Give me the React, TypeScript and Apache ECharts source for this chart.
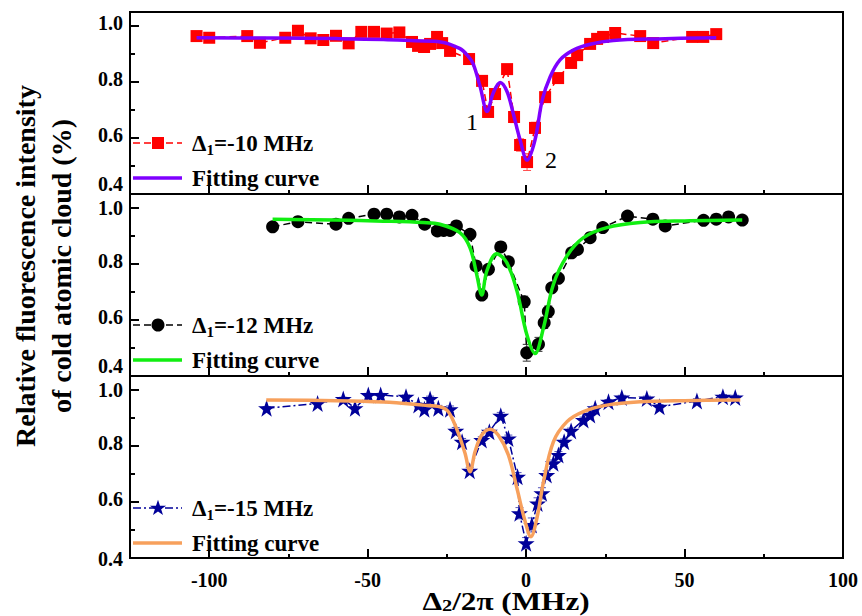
import React, { useEffect, useRef } from "react";
import * as echarts from "echarts";

// ---------- data ----------
// [detuning Δ2/2π (MHz), relative fluorescence, error]
const data10: number[][] = [
  [-104, 0.964, 0.006], [-100, 0.958, 0.006], [-88, 0.964, 0.006], [-84, 0.94, 0.006], [-76, 0.958, 0.006],
  [-72, 0.983, 0.006], [-68, 0.956, 0.006], [-64, 0.95, 0.006], [-60, 0.965, 0.006], [-56, 0.938, 0.006],
  [-52, 0.979, 0.006], [-48, 0.979, 0.006], [-44, 0.973, 0.006], [-40, 0.977, 0.006], [-36, 0.943, 0.008],
  [-34.1, 0.929, 0.008], [-32.2, 0.925, 0.008], [-30.3, 0.936, 0.008], [-28.1, 0.961, 0.008], [-26.5, 0.939, 0.008],
  [-24, 0.911, 0.01], [-18, 0.882, 0.01], [-13.9, 0.804, 0.012], [-12, 0.693, 0.012], [-9.8, 0.757, 0.012],
  [-6, 0.846, 0.012], [-3.8, 0.675, 0.02], [-1.9, 0.575, 0.022], [0.3, 0.514, 0.03], [2.8, 0.636, 0.02],
  [6, 0.746, 0.015], [10.1, 0.814, 0.01], [14.2, 0.868, 0.008], [16.1, 0.896, 0.008], [20.2, 0.936, 0.006],
  [22.4, 0.954, 0.006], [24.3, 0.961, 0.006], [28.1, 0.975, 0.006], [36, 0.964, 0.006], [40.1, 0.939, 0.006],
  [52.4, 0.961, 0.006], [55.9, 0.961, 0.006], [60, 0.971, 0.006],
];
const fit10: number[][] = [
  [-104, 0.958], [-80, 0.957], [-60, 0.955], [-45, 0.952], [-35, 0.947], [-27, 0.943], [-21, 0.92],
  [-18.5, 0.895], [-16.7, 0.865], [-14.5, 0.783], [-12.3, 0.695], [-10.4, 0.76], [-8.2, 0.798], [-6, 0.765],
  [-4.1, 0.689], [-1.9, 0.593], [0.3, 0.521], [2.8, 0.593], [5.1, 0.736], [7.6, 0.819], [10.7, 0.879],
  [14.9, 0.914], [20.2, 0.935], [27.5, 0.948], [41.4, 0.954], [60, 0.958],
];
const data12: number[][] = [
  [-80, 0.933, 0.006], [-72, 0.951, 0.006], [-60, 0.942, 0.006], [-56, 0.963, 0.006], [-48, 0.978, 0.006],
  [-44, 0.978, 0.006], [-40, 0.968, 0.006], [-36, 0.974, 0.006], [-32, 0.942, 0.008], [-28, 0.918, 0.012],
  [-26, 0.92, 0.012], [-24, 0.92, 0.012], [-22, 0.936, 0.012], [-17.7, 0.906, 0.01], [-15.8, 0.793, 0.01],
  [-14, 0.689, 0.01], [-11.9, 0.781, 0.01], [-8, 0.861, 0.01], [-5.6, 0.808, 0.01], [-0.6, 0.665, 0.02],
  [0.2, 0.483, 0.03], [3.9, 0.513, 0.025], [5.7, 0.59, 0.02], [7, 0.63, 0.02], [8.1, 0.715, 0.015],
  [10.2, 0.749, 0.012], [14.4, 0.84, 0.01], [16.2, 0.852, 0.01], [20.2, 0.894, 0.008], [24.2, 0.93, 0.008],
  [32, 0.971, 0.006], [40, 0.96, 0.006], [43.9, 0.936, 0.006], [56, 0.956, 0.006], [60, 0.96, 0.006],
  [63.9, 0.968, 0.006], [68.2, 0.957, 0.006],
];
const fit12: number[][] = [
  [-80, 0.96], [-60, 0.957], [-45, 0.953], [-32.5, 0.948], [-27.2, 0.942], [-20.9, 0.912], [-17.7, 0.858],
  [-15.6, 0.763], [-14, 0.689], [-12.4, 0.775], [-9.3, 0.837], [-6.1, 0.805], [-2.9, 0.704], [0.2, 0.549],
  [2.8, 0.48], [5.5, 0.573], [8.6, 0.727], [12.9, 0.829], [18.1, 0.894], [25.5, 0.93], [36, 0.948],
  [50, 0.954], [68.2, 0.957],
];
const data15: number[][] = [
  [-81.9, 0.935, 0.006], [-65.8, 0.952, 0.006], [-57.7, 0.968, 0.006], [-54, 0.935, 0.006], [-49.8, 0.982, 0.006],
  [-45.9, 0.982, 0.006], [-37.9, 0.976, 0.006], [-34, 0.946, 0.008], [-32.1, 0.931, 0.008], [-30.3, 0.968, 0.01],
  [-27.7, 0.935, 0.01], [-24, 0.931, 0.012], [-22.2, 0.854, 0.012], [-20.2, 0.815, 0.012], [-17.8, 0.712, 0.012],
  [-14, 0.821, 0.012], [-11.6, 0.851, 0.012], [-8, 0.908, 0.012], [-5.6, 0.827, 0.012], [-2.7, 0.69, 0.015],
  [-2.1, 0.56, 0.02], [0, 0.453, 0.02], [1.8, 0.518, 0.025], [3.6, 0.595, 0.02], [5, 0.631, 0.02],
  [6.5, 0.696, 0.015], [8.6, 0.738, 0.012], [10.2, 0.768, 0.012], [12, 0.815, 0.01], [14.2, 0.854, 0.01],
  [18.1, 0.893, 0.01], [20.2, 0.911, 0.01], [21.8, 0.935, 0.008], [26, 0.958, 0.008], [30.2, 0.973, 0.008],
  [38.1, 0.97, 0.008], [42.1, 0.94, 0.008], [53.9, 0.961, 0.008], [62.1, 0.976, 0.008], [66, 0.973, 0.008],
];
const fit15: number[][] = [
  [-82, 0.964], [-60, 0.962], [-45, 0.957], [-32.5, 0.946], [-27.2, 0.94], [-24.6, 0.923], [-21.9, 0.86],
  [-19.3, 0.775], [-17.7, 0.708], [-16.1, 0.78], [-14, 0.839], [-11.4, 0.86], [-8.8, 0.839], [-5.6, 0.768],
  [-2.9, 0.649], [-0.3, 0.53], [1.5, 0.476], [3.4, 0.542], [5.5, 0.673], [8.6, 0.815], [12.9, 0.887],
  [18.1, 0.923], [25.5, 0.946], [36, 0.958], [50, 0.962], [67.6, 0.964],
];

const xMajorTicks = [-100, -50, 0, 50, 100];
const xMinorTicks = [-75, -25, 25, 75];
const yMajorTicks = [0.4, 0.6, 0.8, 1.0];
const yMinorTicks = [0.5, 0.7, 0.9];
const legendLabels = ["-10 MHz", "-12 MHz", "-15 MHz"];
const fitLabel = "Fitting curve";

// ---------- style ----------
const FONT = '"Liberation Serif", "Times New Roman", serif';
const STAR =
  "path://M50,2 L61.8,36.2 L97.6,36.2 L68.6,57.4 L79.4,91.6 L50,70.4 L20.6,91.6 L31.4,57.4 L2.4,36.2 L38.2,36.2 Z";
const STAR_POLY = [
  [50, 2], [61.8, 36.2], [97.6, 36.2], [68.6, 57.4], [79.4, 91.6], [50, 70.4], [20.6, 91.6], [31.4, 57.4],
  [2.4, 36.2], [38.2, 36.2],
];

const panels = [
  { data: data10, fit: fit10, color: "#ff0000", errColor: "#ff4d4d", fitColor: "#7f00ff", symbol: "rect", symbolSize: 12, dash: [7, 4] as number[] },
  { data: data12, fit: fit12, color: "#000000", errColor: "#333333", fitColor: "#11ee11", symbol: "circle", symbolSize: 13, dash: [7, 4] as number[] },
  { data: data15, fit: fit15, color: "#000099", errColor: "#5555bb", fitColor: "#f7a05c", symbol: STAR, symbolSize: 17, dash: [8, 3, 2, 3] as number[] },
];

const GRID_LEFT = 130;
const GRID_WIDTH = 713;
const GRID_TOPS = [12, 194, 376];
const GRID_H = 182;
const LEGEND_Y = [[143, 178], [325, 360], [508, 543]];

export default function App() {
  const ref = useRef<HTMLDivElement>(null);
  useEffect(() => {
    if (!ref.current) return;
    const chart = echarts.init(ref.current, undefined, { renderer: "svg" });

    const grid = GRID_TOPS.map((t) => ({
      left: GRID_LEFT, top: t, width: GRID_WIDTH, height: GRID_H,
      show: true, borderColor: "#000", borderWidth: 2, backgroundColor: "transparent",
    }));

    const labelFont = { fontFamily: FONT, fontWeight: "bold", fontSize: 20, color: "#000" };
    const xAxis: any[] = [];
    const yAxis: any[] = [];
    GRID_TOPS.forEach((_, i) => {
      const common = { type: "value", gridIndex: i, min: -125, max: 100, position: "bottom", splitLine: { show: false } };
      xAxis.push({
        ...common,
        axisLine: { show: true, onZero: false, lineStyle: { color: "#000", width: 2 } },
        axisTick: { show: true, inside: true, length: 9, customValues: xMajorTicks, lineStyle: { color: "#000", width: 2 } },
        axisLabel: { show: i === 2, customValues: xMajorTicks, margin: 12, ...labelFont },
      });
      xAxis.push({
        ...common,
        axisLine: { show: false, onZero: false },
        axisTick: { show: true, inside: true, length: 4, customValues: xMinorTicks, lineStyle: { color: "#000", width: 2 } },
        axisLabel: { show: false, customValues: xMinorTicks },
      });
      const ycommon = { type: "value", gridIndex: i, min: 0.4, max: 1.05, position: "left", splitLine: { show: false } };
      const lowStyle = i < 2 ? "lo" : "bot";
      const topStyle = i > 0 ? "mid" : "n";
      yAxis.push({
        ...ycommon,
        axisLine: { show: true, onZero: false, lineStyle: { color: "#000", width: 2 } },
        axisTick: { show: true, inside: true, length: 9, customValues: yMajorTicks, lineStyle: { color: "#000", width: 2 } },
        axisLabel: {
          show: true, customValues: yMajorTicks, margin: 7, ...labelFont, lineHeight: 14,
          formatter: (v: number) => {
            const s = v.toFixed(1);
            if (Math.abs(v - 0.4) < 1e-6) return `{${lowStyle}|${s}}`;
            if (Math.abs(v - 1.0) < 1e-6) return `{${topStyle}|${s}}`;
            return `{n|${s}}`;
          },
          rich: {
            lo: { ...labelFont, lineHeight: 14, padding: [0, 0, 20, 0] },
            bot: { ...labelFont, lineHeight: 14, padding: [2, 0, 0, 0] },
            mid: { ...labelFont, lineHeight: 14, padding: [0, 0, 0, 0] },
            n: { ...labelFont, lineHeight: 14, padding: [0, 0, 6, 0] },
          },
        },
      });
      yAxis.push({
        ...ycommon,
        axisLine: { show: false, onZero: false },
        axisTick: { show: true, inside: true, length: 5, customValues: yMinorTicks, lineStyle: { color: "#000", width: 2 } },
        axisLabel: { show: false, customValues: yMinorTicks },
      });
    });

    const series: any[] = [];
    panels.forEach((p, i) => {
      const xi = 2 * i;
      const yi = 2 * i;
      series.push({
        type: "custom",
        xAxisIndex: xi, yAxisIndex: yi,
        data: p.data,
        encode: { x: 0, y: 1 },
        z: 1,
        renderItem: (params: any, api: any) => {
          const x = api.value(0);
          const y = api.value(1);
          const e = api.value(2);
          const top = api.coord([x, y + e]);
          const bot = api.coord([x, y - e]);
          const cap = 4;
          const st = { stroke: p.errColor, lineWidth: 1 };
          return {
            type: "group",
            children: [
              { type: "line", shape: { x1: top[0], y1: top[1], x2: bot[0], y2: bot[1] }, style: st },
              { type: "line", shape: { x1: top[0] - cap, y1: top[1], x2: top[0] + cap, y2: top[1] }, style: st },
              { type: "line", shape: { x1: bot[0] - cap, y1: bot[1], x2: bot[0] + cap, y2: bot[1] }, style: st },
            ],
          };
        },
      });
      series.push({
        type: "line",
        xAxisIndex: xi, yAxisIndex: yi,
        data: p.data.map((d) => [d[0], d[1]]),
        symbol: p.symbol, symbolSize: p.symbolSize, showSymbol: true,
        itemStyle: { color: p.color, borderWidth: 0 },
        lineStyle: { color: p.color, width: 1.5, type: p.dash },
        z: 2,
      });
      series.push({
        type: "line",
        xAxisIndex: xi, yAxisIndex: yi,
        data: p.fit,
        smooth: 0.35,
        showSymbol: false, symbol: "none",
        lineStyle: { color: p.fitColor, width: 3.5 },
        z: 3,
      });
    });

    const graphic: any[] = [];
    const subRich = {
      a: { fontFamily: FONT, fontWeight: "bold", fontSize: 23, lineHeight: 28, fill: "#000", verticalAlign: "middle" },
      s: { fontFamily: FONT, fontWeight: "bold", fontSize: 15, lineHeight: 14, fill: "#000", verticalAlign: "bottom" },
    };
    panels.forEach((p, i) => {
      const [y1, y2] = LEGEND_Y[i];
      graphic.push({
        type: "line", shape: { x1: 133, y1: y1, x2: 182, y2: y1 },
        style: { stroke: p.color, lineWidth: 1.5, lineDash: p.dash },
      });
      if (i === 0) {
        graphic.push({ type: "rect", shape: { x: 158 - 6, y: y1 - 6, width: 12, height: 12 }, style: { fill: p.color } });
      } else if (i === 1) {
        graphic.push({ type: "circle", shape: { cx: 158, cy: y1, r: 6.5 }, style: { fill: p.color } });
      } else {
        const s = 0.17;
        graphic.push({
          type: "polygon",
          shape: { points: STAR_POLY.map(([a, b]) => [158 + (a - 50) * s, y1 + (b - 50) * s]) },
          style: { fill: p.color },
        });
      }
      graphic.push({
        type: "text", x: 192, y: y1,
        style: {
          text: `{a|Δ}{s|1}{a|=${legendLabels[i]}}`, rich: subRich,
          align: "left", verticalAlign: "middle",
        },
      });
      graphic.push({
        type: "line", shape: { x1: 133, y1: y2, x2: 182, y2: y2 },
        style: { stroke: p.fitColor, lineWidth: 3.5 },
      });
      graphic.push({
        type: "text", x: 192, y: y2,
        style: {
          text: fitLabel, fill: "#000", font: `bold 23px ${FONT}`,
          align: "left", verticalAlign: "middle",
        },
      });
    });
    graphic.push({
      type: "text", x: 472, y: 122,
      style: { text: "1", fill: "#000", font: `24px ${FONT}`, align: "center", verticalAlign: "middle" },
    });
    graphic.push({
      type: "text", x: 551, y: 160,
      style: { text: "2", fill: "#000", font: `24px ${FONT}`, align: "center", verticalAlign: "middle" },
    });
    graphic.push({
      type: "text", x: 25, y: 266, rotation: Math.PI / 2,
      style: { text: "Relative fluorescence intensity", fill: "#000", font: `bold 28px ${FONT}`, align: "center", verticalAlign: "middle" },
    });
    graphic.push({
      type: "text", x: 61, y: 266, rotation: Math.PI / 2,
      style: { text: "of cold atomic cloud (%)", fill: "#000", font: `bold 28px ${FONT}`, align: "center", verticalAlign: "middle" },
    });
    graphic.push({
      type: "text", x: 506, y: 601, scaleX: 1.2,
      style: {
        text: "{a|Δ}{s|2}{a|/2π (MHz)}",
        rich: {
          a: { fontFamily: FONT, fontWeight: "bold", fontSize: 26, lineHeight: 26, fill: "#000", verticalAlign: "middle" },
          s: { fontFamily: FONT, fontWeight: "bold", fontSize: 17, lineHeight: 12, fill: "#000", verticalAlign: "bottom" },
        },
        align: "center", verticalAlign: "middle",
      },
    });

    chart.setOption({
      animation: false,
      backgroundColor: "#fff",
      grid, xAxis, yAxis, series, graphic,
    });
    return () => chart.dispose();
  }, []);

  return <div ref={ref} style={{ width: 862, height: 616, position: "absolute", left: 0, top: 0 }} />;
}
